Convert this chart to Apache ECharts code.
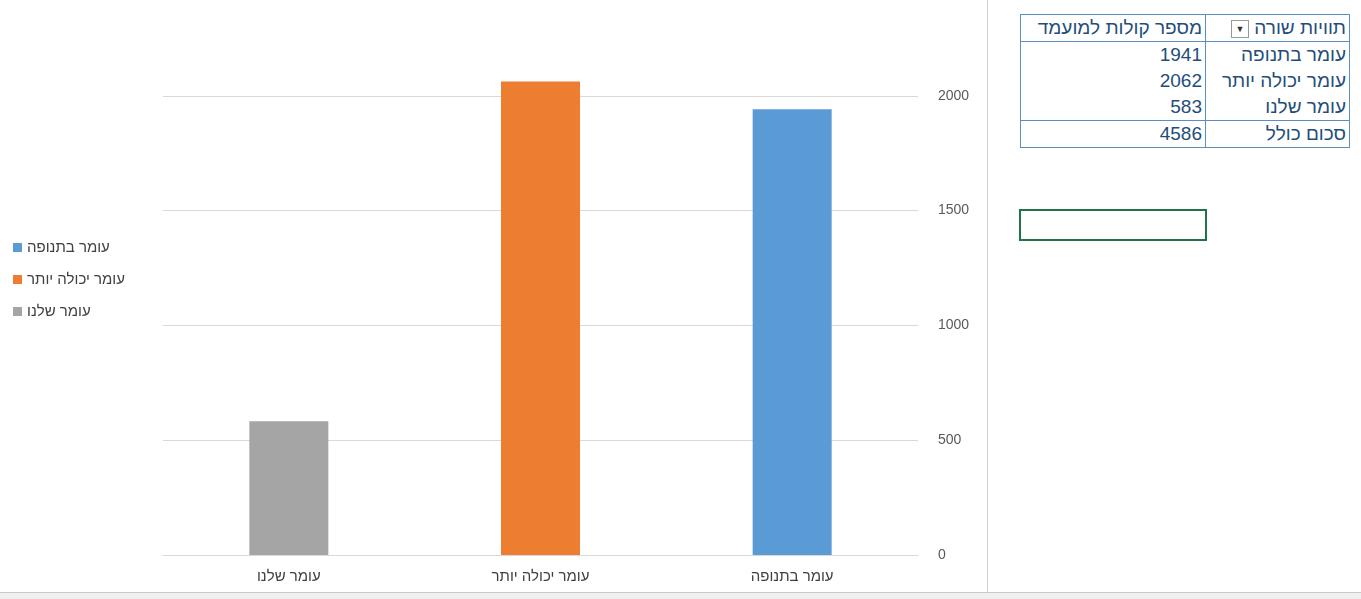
<!DOCTYPE html>
<html><head><meta charset="utf-8">
<script src="https://cdn.jsdelivr.net/npm/echarts@6/dist/echarts.min.js"></script>
<style>
body{margin:0;width:1361px;height:599px;overflow:hidden;background:#fff;font-family:"Liberation Sans","Noto Sans",sans-serif;position:relative}
#chart{position:absolute;left:0;top:-120px;width:985px;height:712px}
#sep{position:absolute;left:987px;top:0;width:1px;height:592px;background:#d0d0d0}
table{position:absolute;left:1020px;top:14px;border-collapse:collapse;direction:rtl;font-size:19px;color:#1f4e79;table-layout:fixed;width:329px}
td{height:26px;padding:0 3px;border-left:1px solid #5b8fbf;border-right:1px solid #5b8fbf;white-space:nowrap;overflow:hidden}
tr.h td{border-top:1px solid #5b8fbf;border-bottom:1px solid #5b8fbf}
tr.t td{border-top:1px solid #5b8fbf;border-bottom:1px solid #5b8fbf}
td.n{text-align:right}
#sel{position:absolute;left:1019px;top:209px;width:184px;height:28px;border:2px solid #217346}
#bot{position:absolute;left:0;top:592px;width:1361px;height:7px;background:#f0f0f0;border-top:1px solid #c8c8c8}
</style></head><body>
<div id="chart"></div><div id="sep"></div>
<table id="tbl"></table>
<div id="sel"></div><div id="bot"></div>
<script>
var categories = ["עומר בתנופה", "עומר יכולה יותר", "עומר שלנו"];
var values = [1941, 2062, 583];
var colors = ["#5b9bd5", "#ed7d31", "#a5a5a5"];
var total = 4586;

var rows = '<tr class="h"><td style="width:137px">תוויות שורה <span style="display:inline-block;width:16px;height:16px;border:1px solid #999;font-size:9px;text-align:center;line-height:16px;color:#333;vertical-align:middle">▼</span></td><td style="width:178px">מספר קולות למועמד</td></tr>';
categories.forEach(function (c, i) {
  rows += '<tr><td>' + c + '</td><td class="n">' + values[i] + '</td></tr>';
});
rows += '<tr class="t"><td>סכום כולל</td><td class="n">' + total + '</td></tr>';
document.getElementById('tbl').innerHTML = rows;

var chart = echarts.init(document.getElementById('chart'));
chart.setOption({
  animation: false,
  textStyle: { fontFamily: "Liberation Sans, Noto Sans, sans-serif" },
  grid: { left: 163, right: 67, top: 101, bottom: 37 },
  legend: {
    orient: 'vertical', left: 8, top: 355, itemWidth: 9, itemHeight: 9, itemGap: 17,
    icon: 'rect',
    textStyle: { fontSize: 15, color: '#404040' },
    data: categories
  },
  xAxis: {
    type: 'category', inverse: true, data: categories,
    axisTick: { show: false },
    axisLine: { lineStyle: { color: '#d9d9d9' } },
    axisLabel: { fontSize: 15, color: '#404040', margin: 14 }
  },
  yAxis: {
    type: 'value', position: 'right', min: 0, max: 2500, interval: 500,
    axisLabel: { fontSize: 14, color: '#595959', margin: 20, formatter: function (v) { return String(v); } },
    splitLine: { lineStyle: { color: '#d9d9d9' } }
  },
  series: categories.map(function (c, i) {
    var d = categories.map(function (x, j) { return j === i ? values[i] : '-'; });
    return { name: c, type: 'bar', stack: 's', barWidth: 79, data: d, itemStyle: { color: colors[i] } };
  })
});
</script>
</body></html>
